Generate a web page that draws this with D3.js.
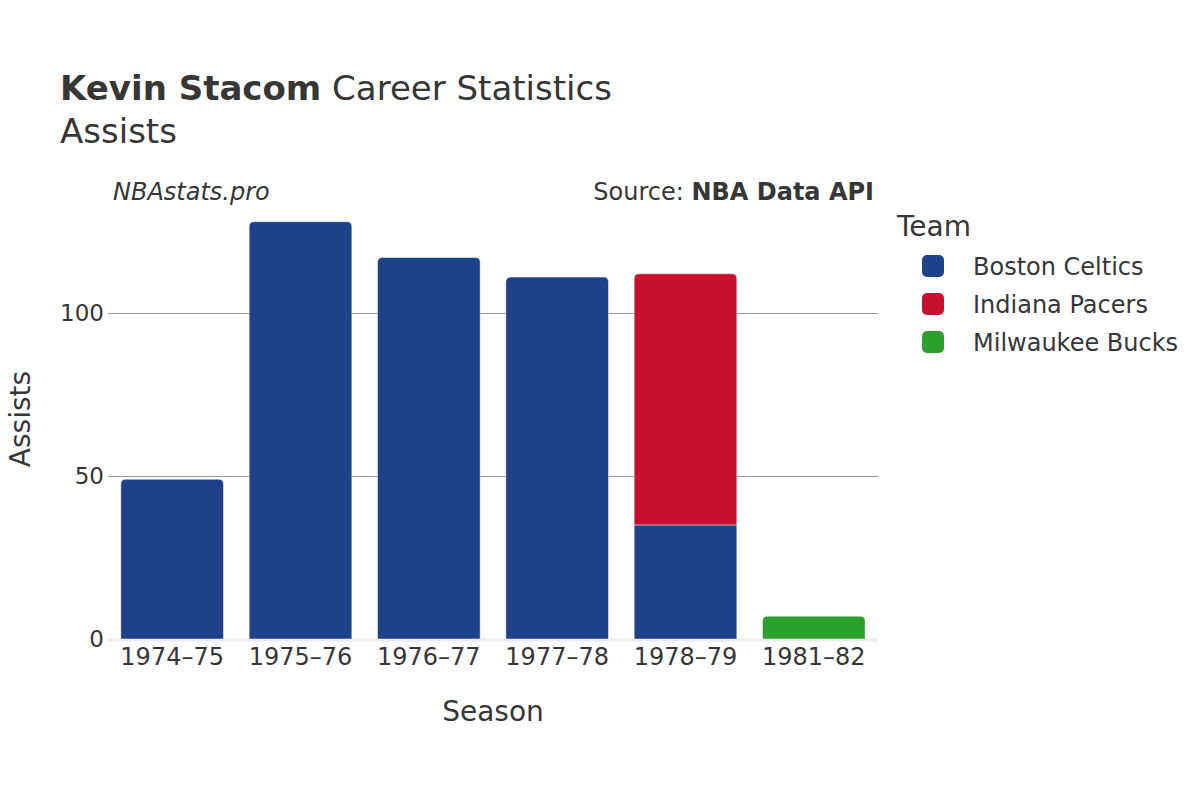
<!DOCTYPE html>
<html>
<head>
<meta charset="utf-8">
<script src="https://cdn.jsdelivr.net/npm/d3@7"></script>
<style>
  html, body { margin: 0; padding: 0; background: #fff; overflow: hidden; }
  svg { display: block; }
  text { font-family: "DejaVu Sans", sans-serif; fill: #363636; }
</style>
</head>
<body>
<div id="chart"></div>
<script>
// data
const seasons = ["1974–75", "1975–76", "1976–77", "1977–78", "1978–79", "1981–82"];
const teams = ["Boston Celtics", "Indiana Pacers", "Milwaukee Bucks"];
const teamColors = ["#1d428a", "#c8102e", "#2ca02c"];
const bostonAssists = [49, 128, 117, 111, 35, 0];
const indianaAssists = [0, 0, 0, 0, 77, 0];
const milwaukeeAssists = [0, 0, 0, 0, 0, 7];
const yTicks = [0, 50, 100];

const WIDTH = 1200;
const HEIGHT = 800;
const margin = { top: 200, right: 322, bottom: 161, left: 108 };
const innerWidth = WIDTH - margin.left - margin.right;
const innerHeight = HEIGHT - margin.top - margin.bottom;

const table = seasons.map((s, i) => ({
  season: s,
  "Boston Celtics": bostonAssists[i],
  "Indiana Pacers": indianaAssists[i],
  "Milwaukee Bucks": milwaukeeAssists[i]
}));
const stacked = d3.stack().keys(teams)(table);

const svg = d3.select("#chart").append("svg")
  .attr("width", WIDTH)
  .attr("height", HEIGHT);

const xScale = d3.scaleBand()
  .domain(seasons)
  .range([0, innerWidth])
  .paddingInner(0.2)
  .paddingOuter(0.1);
const yMax = d3.max(table, d => teams.reduce((a, t) => a + d[t], 0));
const yScale = d3.scaleLinear()
  .domain([0, yMax * 1.052])
  .range([innerHeight, 0]);
const color = d3.scaleOrdinal().domain(teams).range(teamColors);

const g = svg.append("g")
  .attr("transform", `translate(${margin.left}, ${margin.top})`);

// gridlines
g.append("g")
  .selectAll("line")
  .data(yTicks.filter(d => d > 0))
  .join("line")
  .attr("x1", 0)
  .attr("x2", innerWidth)
  .attr("y1", d => Math.round(yScale(d)) + 0.5)
  .attr("y2", d => Math.round(yScale(d)) + 0.5)
  .attr("stroke", "#999999")
  .attr("stroke-width", 1);

// zero line
g.append("line")
  .attr("x1", 0)
  .attr("x2", innerWidth)
  .attr("y1", yScale(0) + 1)
  .attr("y2", yScale(0) + 1)
  .attr("stroke", "#ebebeb")
  .attr("stroke-width", 3);

// rounded top only on the top segment of each stack
const R = 5;
function barPath(x, y0, y1, w, rounded) {
  const h = y0 - y1;
  if (h <= 0) return "";
  const r = rounded ? Math.min(R, h, w / 2) : 0;
  return `M${x},${y0} L${x},${y1 + r} Q${x},${y1} ${x + r},${y1} ` +
    `L${x + w - r},${y1} Q${x + w},${y1} ${x + w},${y1 + r} L${x + w},${y0} Z`;
}

const topKey = table.map(d => {
  let k = null;
  teams.forEach(t => { if (d[t] > 0) k = t; });
  return k;
});

stacked.forEach(layer => {
  g.append("g")
    .selectAll("path")
    .data(layer.map((d, i) => ({ d, i })))
    .join("path")
    .attr("d", ({ d, i }) => barPath(
      xScale(seasons[i]),
      yScale(d[0]),
      yScale(d[1]),
      xScale.bandwidth(),
      topKey[i] === layer.key))
    .attr("fill", color(layer.key))
    .attr("stroke", "#ffffff")
    .attr("stroke-opacity", 0.6)
    .attr("stroke-width", 0.8);
});

// axes
const xAxis = g.append("g")
  .attr("transform", `translate(0, ${innerHeight})`)
  .call(d3.axisBottom(xScale).tickSize(0).tickPadding(9));
xAxis.select(".domain").remove();
xAxis.selectAll("text")
  .attr("dy", "0.71em")
  .style("font-size", "24px")
  .style("font-family", "DejaVu Sans")
  .attr("fill", "#363636");

const yAxis = g.append("g")
  .call(d3.axisLeft(yScale).tickValues(yTicks).tickSize(0).tickPadding(4));
yAxis.select(".domain").remove();
yAxis.selectAll("text")
  .style("font-size", "23px")
  .style("font-family", "DejaVu Sans")
  .attr("fill", "#363636");

// axis titles
svg.append("text")
  .attr("x", margin.left + innerWidth / 2)
  .attr("y", 721)
  .attr("text-anchor", "middle")
  .style("font-size", "28px")
  .text("Season");
svg.append("text")
  .attr("transform", "rotate(-90)")
  .attr("x", -419)
  .attr("y", 30)
  .attr("text-anchor", "middle")
  .style("font-size", "28px")
  .text("Assists");

// titles
const title = svg.append("text")
  .attr("x", 60)
  .attr("y", 100)
  .style("font-size", "34px");
title.append("tspan").attr("font-weight", "bold").text("Kevin Stacom");
title.append("tspan").text(" Career Statistics");
svg.append("text")
  .attr("x", 60)
  .attr("y", 143)
  .style("font-size", "34px")
  .text("Assists");

svg.append("text")
  .attr("x", 113)
  .attr("y", 200)
  .style("font-size", "24px")
  .style("font-style", "italic")
  .text("NBAstats.pro");
const src = svg.append("text")
  .attr("x", 874)
  .attr("y", 200)
  .attr("text-anchor", "end")
  .style("font-size", "24px");
src.append("tspan").text("Source: ");
src.append("tspan").attr("font-weight", "bold").text("NBA Data API");

// legend
const legend = svg.append("g").attr("transform", "translate(897, 0)");
legend.append("text")
  .attr("x", 0)
  .attr("y", 236)
  .style("font-size", "28px")
  .text("Team");
const items = legend.selectAll("g.item")
  .data(teams)
  .join("g")
  .attr("class", "item")
  .attr("transform", (d, i) => `translate(0, ${266 + i * 38})`);
items.append("rect")
  .attr("x", 25)
  .attr("y", -11)
  .attr("width", 22)
  .attr("height", 22)
  .attr("rx", 5)
  .attr("fill", d => color(d));
items.append("text")
  .attr("x", 76)
  .attr("y", 9)
  .style("font-size", "24px")
  .text(d => d);
</script>
</body>
</html>
